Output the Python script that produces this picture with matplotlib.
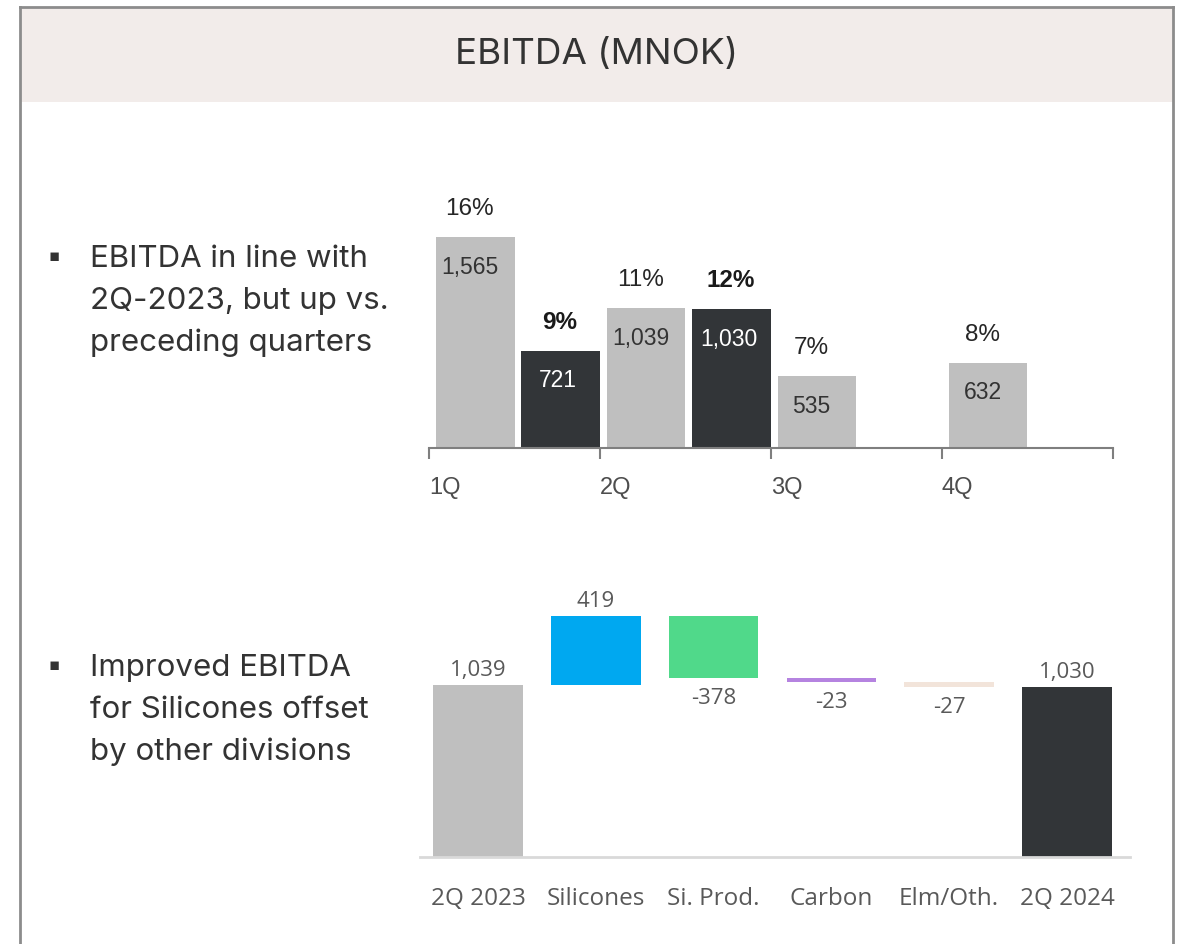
import matplotlib.pyplot as plt
from matplotlib.lines import Line2D
from matplotlib.patches import Rectangle

W, H = 1185, 945

# quarterly EBITDA (MNOK) and EBITDA margin (%)
quarters = ['1Q', '2Q', '3Q', '4Q']
ebitda_2023 = [1565, 1039, 535, 632]
ebitda_2024 = [721, 1030]
margin_2023 = [16, 11, 7, 8]
margin_2024 = [9, 12]

# bridge 2Q 2023 -> 2Q 2024
bridge_labels = ['2Q 2023', 'Silicones', 'Si. Prod.', 'Carbon', 'Elm/Oth.', '2Q 2024']
bridge_start = 1039
bridge_deltas = [419, -378, -23, -27]
bridge_end = 1030

GREY = '#BFBFBF'
DARK = '#323538'
bridge_colors = ['#00A8F0', '#50D98A', '#B583E0', '#F2E4DA']


def fx(px):
    return px / W


def fy(py):
    return 1 - py / H


def add_ax(left, top, right, bottom):
    return fig.add_axes([fx(left), fy(bottom), fx(right - left), (bottom - top) / H])


fig = plt.figure(figsize=(W / 100, H / 100), dpi=100)
fig.patch.set_facecolor('white')

# frame + header band
fig.add_artist(Rectangle((fx(20), fy(103)), fx(1153), (103 - 8) / H,
                         transform=fig.transFigure, facecolor='#F2ECEA', edgecolor='none'))
frame_kw = dict(transform=fig.transFigure, color='#8C8C8C', lw=2)
fig.add_artist(Line2D([fx(20), fx(1173)], [fy(8), fy(8)], **frame_kw))
fig.add_artist(Line2D([fx(20), fx(20)], [fy(8), 0], **frame_kw))
fig.add_artist(Line2D([fx(1173), fx(1173)], [fy(8), 0], **frame_kw))
fig.text(fx(597), fy(55), 'EBITDA (MNOK)', ha='center', va='center',
         fontsize=26.5, color='#333333', family='Inter')

# bullets
bullet_kw = dict(fontsize=22.5, color='#333333', family='Inter', va='center', linespacing=1.6)
fig.text(fx(48), fy(256), '\u25aa', fontsize=12, color='#333333', va='center')
fig.text(fx(90), fy(301), 'EBITDA in line with\n2Q-2023, but up vs.\npreceding quarters', **bullet_kw)
fig.text(fx(48), fy(665), '\u25aa', fontsize=12, color='#333333', va='center')
fig.text(fx(90), fy(710), 'Improved EBITDA\nfor Silicones offset\nby other divisions', **bullet_kw)

# top chart: quarterly EBITDA
ax = add_ax(429, 190, 1113, 449)
ax.set_xlim(0, 4)
ax.set_ylim(0, 1921)
off23, off24, bw = 0.27, 0.77, 0.46
val_kw = dict(family='Liberation Sans', fontsize=16.5, ha='center', va='center')
pct_kw = dict(family='Liberation Sans', fontsize=17.5, ha='center', va='center')
for i, (v, m) in enumerate(zip(ebitda_2023, margin_2023)):
    ax.bar(i + off23, v, width=bw, color=GREY)
    ax.annotate(f'{v:,}', (i + off23, v), xytext=(-4, -21), textcoords='offset points',
                color='#333333', **val_kw)
    ax.annotate(f'{m}%', (i + off23, v), xytext=(-4, 21), textcoords='offset points',
                color='#262626', **pct_kw)
for i, (v, m) in enumerate(zip(ebitda_2024, margin_2024)):
    ax.bar(i + off24, v, width=bw, color=DARK)
    ax.annotate(f'{v:,}', (i + off24, v), xytext=(-2, -21), textcoords='offset points',
                color='white', **val_kw)
    ax.annotate(f'{m}%', (i + off24, v), xytext=(-1, 21), textcoords='offset points',
                color='#1a1a1a', fontweight='bold', **pct_kw)
for s in ['top', 'right', 'left']:
    ax.spines[s].set_visible(False)
ax.spines['bottom'].set_color('#7F7F7F')
ax.spines['bottom'].set_linewidth(1.5)
ax.set_yticks([])
ax.set_xticks(range(5))
ax.set_xticklabels(quarters + [''], ha='left', family='Liberation Sans', fontsize=17,
                   color='#4D4D4D')
ax.tick_params(axis='x', length=8, width=1.5, color='#7F7F7F', pad=12)
ax.set_facecolor('none')

# bottom chart: bridge
bx = add_ax(420, 580, 1130, 858)
bx.set_xlim(-0.492, 5.535)
bx.set_ylim(0, 1680)
bw2 = 0.76
wf_kw = dict(family='Open Sans', fontsize=16, color='#595959', ha='center', va='center')
bx.bar(0, bridge_start, width=bw2, color=GREY)
bx.annotate(f'{bridge_start:,}', (0, bridge_start), xytext=(0, 11), textcoords='offset points', **wf_kw)
level = bridge_start
for i, (d, c) in enumerate(zip(bridge_deltas, bridge_colors), start=1):
    bottom = min(level, level + d)
    bx.bar(i, abs(d), bottom=bottom, width=bw2, color=c)
    if d > 0:
        bx.annotate(f'{d:,}', (i, level + d), xytext=(0, 11), textcoords='offset points', **wf_kw)
    else:
        bx.annotate(f'{d:,}', (i, level + d), xytext=(0, -14), textcoords='offset points', **wf_kw)
    level += d
bx.bar(5, bridge_end, width=bw2, color=DARK)
bx.annotate(f'{bridge_end:,}', (5, bridge_end), xytext=(0, 11), textcoords='offset points', **wf_kw)
for s in ['top', 'right', 'left']:
    bx.spines[s].set_visible(False)
bx.spines['bottom'].set_color('#D9D9D9')
bx.spines['bottom'].set_linewidth(2)
bx.set_yticks([])
bx.set_xticks(range(6))
bx.set_xticklabels(bridge_labels, family='Open Sans', fontsize=17.5, color='#595959')
bx.tick_params(axis='x', length=0, pad=21)
bx.set_facecolor('none')

fig.savefig('out.png', dpi=100)
